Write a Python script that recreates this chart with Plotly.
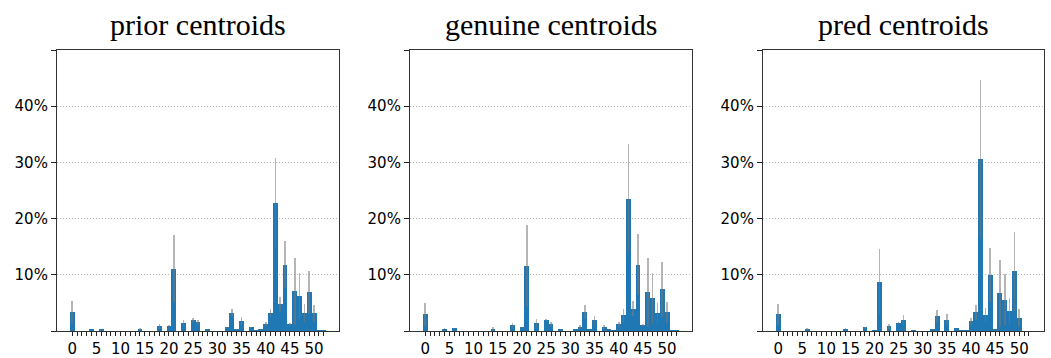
import plotly.graph_objects as go

# Cluster index 0..52 and the share of samples assigned to each centroid (%)
clusters = list(range(53))

prior_mean = [3.3, 0, 0, 0, 0.3, 0, 0.3, 0, 0, 0,
              0, 0, 0, 0, 0.35, 0, 0, 0, 0.83, 0,
              0.95, 11.1, 0, 1.36, 0, 1.95, 1.54, 0, 0.3, 0,
              0, 0, 0.65, 3.14, 0.3, 1.72, 0, 0.65, 0.1, 0.3,
              1.2, 3.14, 22.7, 4.73, 11.8, 1.24, 7.04, 6.15, 3.14, 6.86,
              3.14, 0.1, 0.1]
prior_std = [2.0, 0, 0, 0, 0.1, 0, 0.1, 0, 0, 0,
             0, 0, 0, 0, 0.1, 0, 0, 0, 0.5, 0,
             0.15, 6.0, 0, 0.55, 0, 0.3, 0.4, 0, 0.05, 0,
             0, 0, 0.15, 0.7, 0.05, 0.7, 0, 0.15, 0, 0.05,
             0.35, 0.7, 8.0, 1.25, 4.2, 0.25, 6.0, 4.2, 1.6, 3.9,
             1.55, 0, 0]

genuine_mean = [2.96, 0, 0, 0, 0.35, 0, 0.47, 0, 0, 0,
                0, 0, 0, 0, 0.35, 0, 0, 0, 1.0, 0,
                0.7, 11.65, 0, 1.36, 0, 1.95, 1.18, 0, 0.3, 0,
                0, 0.3, 0.65, 3.3, 0.3, 1.9, 0, 0.65, 0.3, 0.1,
                1.18, 2.78, 23.5, 4.0, 11.8, 1.1, 6.86, 5.8, 3.2, 7.4,
                3.3, 0.1, 0.1]
genuine_std = [2.1, 0, 0, 0, 0.15, 0, 0.05, 0, 0, 0,
               0, 0, 0, 0, 0.3, 0, 0, 0, 0.4, 0,
               0.1, 7.3, 0, 0.7, 0, 0.15, 0.5, 0, 0.05, 0,
               0, 0, 0.35, 1.25, 0, 0.8, 0, 0.35, 0, 0,
               0.5, 1.1, 9.7, 1.3, 5.4, 0.2, 6.1, 4.6, 1.8, 4.9,
               1.8, 0, 0]

pred_mean = [2.96, 0, 0, 0, 0, 0, 0.35, 0, 0, 0,
             0, 0, 0, 0, 0.35, 0, 0, 0, 0.65, 0,
             0.1, 8.75, 0, 0.83, 0, 1.36, 1.95, 0, 0.1, 0,
             0, 0, 0.3, 2.6, 0, 2.0, 0, 0.47, 0.05, 0.05,
             1.7, 3.3, 30.6, 2.78, 10.0, 0.3, 6.7, 5.6, 3.55, 10.6,
             2.4, 0, 0]
pred_std = [1.9, 0, 0, 0, 0, 0, 0.1, 0, 0, 0,
            0, 0, 0, 0, 0.1, 0, 0, 0, 0.1, 0,
            0, 5.8, 0, 0.45, 0, 0.2, 0.9, 0, 0, 0,
            0, 0, 0.05, 1.1, 0, 1.0, 0, 0.15, 0, 0,
            0.7, 1.35, 14.0, 1.25, 4.8, 0.1, 6.0, 4.5, 2.3, 7.1,
            1.5, 0, 0]

panel_titles = ["prior centroids", "genuine centroids", "pred centroids"]
panel_means = [prior_mean, genuine_mean, pred_mean]
panel_stds = [prior_std, genuine_std, pred_std]

y_tickvals = [0, 10, 20, 30, 40, 50]
y_ticktext = ["", "10%", "20%", "30%", "40%", ""]
x_ticktext = [str(c) if c % 5 == 0 else "" for c in clusters]

W, H = 1051, 358
# plot-area pixel extents for the three panels
x_px = [(57, 339), (410, 692), (763, 1044)]
y_top_px, y_bot_px = 50, 331

fig = go.Figure()
for k in range(3):
    ax = "" if k == 0 else str(k + 1)
    fig.add_trace(go.Bar(
        x=clusters, y=panel_means[k], width=1.0,
        marker=dict(color="#1f77b4", line=dict(width=0)),
        error_y=dict(type="data", array=panel_stds[k], symmetric=True,
                     color="rgba(120,120,120,0.55)", thickness=1.6, width=0),
        xaxis="x" + ax, yaxis="y" + ax, showlegend=False,
    ))
    x0, x1 = x_px[k]
    common_line = dict(showline=True, mirror=True, linecolor="#333333", linewidth=1.2,
                       ticks="outside", tickwidth=1.3, tickcolor="#222222",
                       zeroline=False, automargin=False,
                       tickfont=dict(family="DejaVu Sans", size=15, color="black"))
    fig.update_layout(**{
        "xaxis" + ax: dict(domain=[x0 / W, x1 / W], range=[-3.15, 55.15],
                           tickmode="array", tickvals=clusters, ticktext=x_ticktext,
                           ticklen=4, showgrid=False, anchor="y" + ax, **common_line),
        "yaxis" + ax: dict(domain=[(H - y_bot_px) / H, (H - y_top_px) / H], range=[0, 50],
                           tickmode="array", tickvals=y_tickvals, ticktext=y_ticktext,
                           ticklen=5, showgrid=True, gridcolor="#b8b8b8",
                           griddash="1px,2px", gridwidth=1,
                           anchor="x" + ax, **common_line),
    })
    fig.add_annotation(text=panel_titles[k], x=(x0 + x1) / 2 / W, y=(H - 24) / H,
                       xref="paper", yref="paper", xanchor="center", yanchor="middle",
                       showarrow=False,
                       font=dict(family="Liberation Serif", size=30, color="black"))

fig.update_layout(width=W, height=H, margin=dict(l=0, r=0, t=0, b=0),
                  plot_bgcolor="white", paper_bgcolor="white", bargap=0)
fig.write_html("out.html")
